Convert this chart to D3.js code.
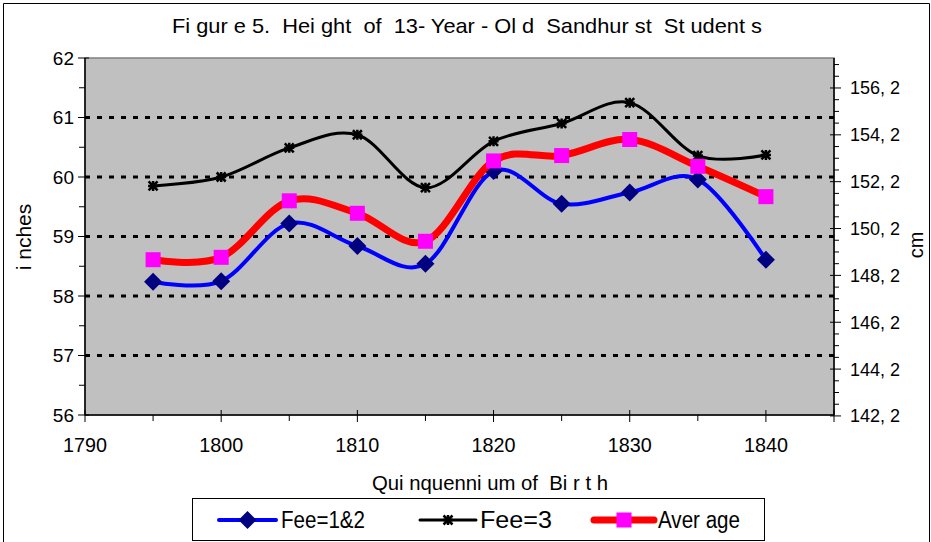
<!DOCTYPE html>
<html>
<head>
<meta charset="utf-8">
<script src="https://cdn.jsdelivr.net/npm/d3@7"></script>
<style>
  html, body { margin: 0; padding: 0; background: #fff; }
  svg { display: block; }
  text { font-family: "Liberation Sans", Arial, sans-serif; fill: #000; white-space: pre; }
</style>
</head>
<body>
<svg id="chart" width="931" height="542"></svg>
<script>
// ---- data ----
const years = [1795, 1800, 1805, 1810, 1815, 1820, 1825, 1830, 1835, 1840];
const fee12 = [58.24, 58.25, 59.22, 58.84, 58.54, 60.10, 59.55, 59.74, 59.96, 58.61];
const fee3 = [59.85, 60.00, 60.49, 60.71, 59.82, 60.60, 60.90, 61.25, 60.36, 60.37];
const average = [58.61, 58.65, 59.60, 59.39, 58.92, 60.27, 60.36, 60.63, 60.18, 59.67];
const seriesNames = ["Fee=1&2", "Fee=3", "Aver age"];
const xTicks = [1790, 1800, 1810, 1820, 1830, 1840];
const yTicks = [56, 57, 58, 59, 60, 61, 62];
const cmTicks = [142.2, 144.2, 146.2, 148.2, 150.2, 152.2, 154.2, 156.2];
const titleText = "Fi gur e 5.  Hei ght  of  13- Year - Ol d  Sandhur st  St udent s";
const xLabel = "Qui nquenni um of  Bi r t h";
const yLabel = "i nches";
const y2Label = "cm";

// ---- layout ----
const svg = d3.select("#chart");
const L = 85, R = 834, T = 58, B = 415;
const x = d3.scaleLinear().domain([1790, 1845]).range([L, R]);
const y = d3.scaleLinear().domain([56, 62]).range([B, T]);
const y2 = d3.scaleLinear().domain([56 * 2.54, 62 * 2.54]).range([B, T]);

// outer frame
svg.append("path").attr("d", `M3.5,542 V3.5 H929.5 V542`).attr("fill", "none").attr("stroke", "#000").attr("stroke-width", 1);

// title
svg.append("text").attr("x", 467).attr("y", 33).attr("text-anchor", "middle")
  .attr("font-size", 21).attr("textLength", 590).attr("lengthAdjust", "spacingAndGlyphs")
  .text(titleText);

// plot area
svg.append("rect").attr("x", L).attr("y", T).attr("width", R - L).attr("height", B - T)
  .attr("fill", "#C0C0C0").attr("stroke", "#808080").attr("stroke-width", 1.5);

// gridlines
svg.append("g").selectAll("line").data(yTicks.filter(d => d > 56 && d < 62)).join("line")
  .attr("x1", L).attr("x2", R).attr("y1", d => y(d)).attr("y2", d => y(d))
  .attr("stroke", "#000").attr("stroke-width", 3).attr("stroke-dasharray", "5,7");

// left axis
const gL = svg.append("g");
gL.append("line").attr("x1", L).attr("x2", L).attr("y1", T).attr("y2", B).attr("stroke", "#000").attr("stroke-width", 1.5);
gL.selectAll(".maj").data(yTicks).join("line").attr("class", "maj")
  .attr("x1", L - 7).attr("x2", L + 4).attr("y1", d => y(d)).attr("y2", d => y(d)).attr("stroke", "#000");
gL.selectAll(".min").data(d3.range(56.5, 62, 1)).join("line").attr("class", "min")
  .attr("x1", L - 6).attr("x2", L).attr("y1", d => y(d)).attr("y2", d => y(d)).attr("stroke", "#000");
gL.selectAll("text").data(yTicks).join("text")
  .attr("x", L - 11).attr("y", d => y(d) + 6.5).attr("text-anchor", "end").attr("font-size", 19)
  .text(d => d);

// right axis
const gR = svg.append("g");
gR.append("line").attr("x1", R).attr("x2", R).attr("y1", T).attr("y2", B).attr("stroke", "#000").attr("stroke-width", 1.5);
gR.selectAll(".maj").data(cmTicks).join("line").attr("class", "maj")
  .attr("x1", R - 4).attr("x2", R + 7).attr("y1", d => y2(d)).attr("y2", d => y2(d)).attr("stroke", "#000");
gR.selectAll(".min").data(d3.range(142.7, 157.5, 0.5).filter(d => cmTicks.every(c => Math.abs(c - d) > 0.01))).join("line").attr("class", "min")
  .attr("x1", R).attr("x2", R + 5).attr("y1", d => y2(d)).attr("y2", d => y2(d)).attr("stroke", "#000");
gR.selectAll("text").data(cmTicks).join("text")
  .attr("x", R + 16).attr("y", d => y2(d) + 6.5).attr("text-anchor", "start").attr("font-size", 18)
  .text(d => d.toFixed(1).replace(".", ", "));

// bottom axis
const gB = svg.append("g");
gB.append("line").attr("x1", L).attr("x2", R).attr("y1", B).attr("y2", B).attr("stroke", "#000").attr("stroke-width", 1.5);
gB.selectAll(".maj").data(xTicks.concat([1845])).join("line").attr("class", "maj")
  .attr("x1", d => x(d)).attr("x2", d => x(d)).attr("y1", B - 5).attr("y2", B + 7).attr("stroke", "#000");
gB.selectAll(".min").data(d3.range(1795, 1845, 10)).join("line").attr("class", "min")
  .attr("x1", d => x(d)).attr("x2", d => x(d)).attr("y1", B).attr("y2", B + 6).attr("stroke", "#000");
gB.selectAll("text").data(xTicks).join("text")
  .attr("x", d => x(d)).attr("y", B + 37).attr("text-anchor", "middle").attr("font-size", 21)
  .attr("textLength", 44).attr("lengthAdjust", "spacingAndGlyphs")
  .text(d => d);

// axis titles
svg.append("text").attr("x", 490).attr("y", 490).attr("text-anchor", "middle").attr("font-size", 21)
  .attr("textLength", 236).attr("lengthAdjust", "spacingAndGlyphs").text(xLabel);
svg.append("text").attr("transform", "translate(31,237) rotate(-90)").attr("text-anchor", "middle").attr("font-size", 21)
  .text(yLabel);
svg.append("text").attr("transform", "translate(923,245) rotate(-90)").attr("text-anchor", "middle").attr("font-size", 20)
  .text(y2Label);

// lines
const line = d3.line().x(d => x(d[0])).y(d => y(d[1])).curve(d3.curveCardinal.tension(0));
const zip = vals => years.map((yr, i) => [yr, vals[i]]);

const gS = svg.append("g");
// Fee=1&2
gS.append("path").datum(zip(fee12)).attr("d", line).attr("fill", "none").attr("stroke", "#0000FF").attr("stroke-width", 4);
gS.append("g").selectAll("path").data(zip(fee12)).join("path")
  .attr("transform", d => `translate(${x(d[0])},${y(d[1])})`)
  .attr("d", "M0,-9 L9,0 L0,9 L-9,0 Z").attr("fill", "#000080");
// Fee=3
gS.append("path").datum(zip(fee3)).attr("d", line).attr("fill", "none").attr("stroke", "#000").attr("stroke-width", 3);
gS.append("g").selectAll("path").data(zip(fee3)).join("path")
  .attr("transform", d => `translate(${x(d[0])},${y(d[1])})`)
  .attr("d", "M-4.5,-4.5 L4.5,4.5 M-4.5,4.5 L4.5,-4.5 M0,-5 V5 M-5,0 H5").attr("stroke", "#000").attr("stroke-width", 2.5).attr("fill", "none");
// Average
gS.append("path").datum(zip(average)).attr("d", line).attr("fill", "none").attr("stroke", "#FF0000").attr("stroke-width", 7);
gS.append("g").selectAll("rect").data(zip(average)).join("rect")
  .attr("x", d => x(d[0]) - 7.5).attr("y", d => y(d[1]) - 7.5).attr("width", 15).attr("height", 15).attr("fill", "#FF00FF");

// legend
const leg = svg.append("g");
leg.append("rect").attr("x", 192.5).attr("y", 498.5).attr("width", 572).attr("height", 42)
  .attr("fill", "#fff").attr("stroke", "#000").attr("stroke-width", 1);
const legY = 520;
const legItems = [
  { x1: 219, x2: 276, tx: 281, tl: 84, name: seriesNames[0], color: "#0000FF", w: 4, mk: "diamond" },
  { x1: 420, x2: 476, tx: 480, tl: 72, name: seriesNames[1], color: "#000", w: 3, mk: "star" },
  { x1: 594, x2: 654, tx: 658, tl: 82, name: seriesNames[2], color: "#FF0000", w: 7, mk: "square" }
];
legItems.forEach(it => {
  leg.append("line").attr("x1", it.x1).attr("x2", it.x2).attr("y1", legY).attr("y2", legY)
    .attr("stroke", it.color).attr("stroke-width", it.w).attr("stroke-linecap", "round");
  const cx = (it.x1 + it.x2) / 2;
  if (it.mk === "diamond") {
    leg.append("path").attr("transform", `translate(${cx},${legY})`).attr("d", "M0,-9 L9,0 L0,9 L-9,0 Z").attr("fill", "#000080");
  } else if (it.mk === "star") {
    leg.append("path").attr("transform", `translate(${cx},${legY})`)
      .attr("d", "M-4.5,-4.5 L4.5,4.5 M-4.5,4.5 L4.5,-4.5 M0,-5 V5 M-5,0 H5").attr("stroke", "#000").attr("stroke-width", 2.5);
  } else {
    leg.append("rect").attr("x", cx - 7.5).attr("y", legY - 7.5).attr("width", 15).attr("height", 15).attr("fill", "#FF00FF");
  }
  leg.append("text").attr("x", it.tx).attr("y", legY + 8).attr("font-size", 23)
    .attr("textLength", it.tl).attr("lengthAdjust", "spacingAndGlyphs").text(it.name);
});
</script>
</body>
</html>
